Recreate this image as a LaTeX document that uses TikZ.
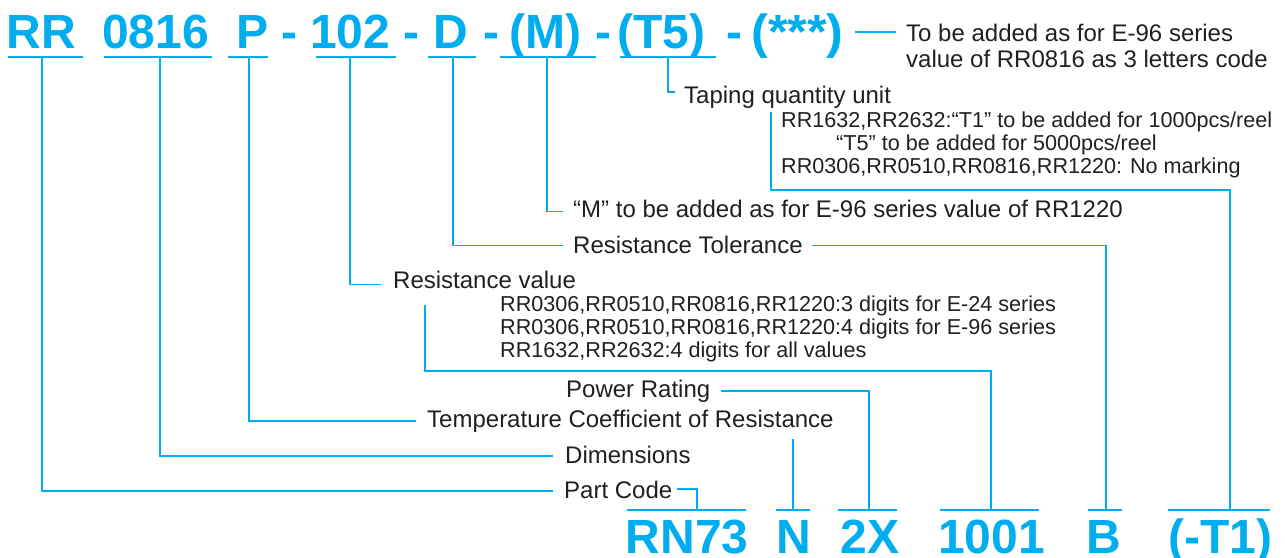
\documentclass[tikz,border=0pt]{standalone}
\usepackage{fontspec}
\setmainfont{Liberation Sans}
\definecolor{cy}{RGB}{0,174,239}
\definecolor{ink}{RGB}{35,31,32}
\begin{document}
\begin{tikzpicture}[x=1pt,y=-1pt,
  code/.style={font=\bfseries\fontsize{48}{48}\selectfont, text=cy, inner sep=0pt, anchor=base west},
  lab/.style={font=\fontsize{24}{26}\selectfont, text=ink, inner sep=0pt, anchor=base west, align=left},
  det/.style={font=\fontsize{21.6}{23}\selectfont, text=ink, inner sep=0pt, anchor=base west, align=left},
  conn/.style={draw=cy, line width=1.3pt}]
\useasboundingbox (0,0) rectangle (1285,557);
\fill[white] (0,0) rectangle (1285,557);

% ---- top code ----
\node[code] (tRR)  at (6.5,48) {RR};
\node[code] (t0816) at (102,48) {0816};
\node[code] (tP)   at (236.5,48) {P};
\node[code] (th1)  at (281,48) {-};
\node[code] (t102) at (310,48) {102};
\node[code] (th2)  at (403,48) {-};
\node[code] (tD)   at (433.5,48) {D};
\node[code] (th3)  at (483,48) {-};
\node[code] (tM)   at (509,48) {(M)};
\node[code] (th4)  at (595,48) {-};
\node[code] (tT5)  at (617,48) {(T5)};
\node[code] (th5)  at (726,48) {-};
\node[code, xscale=1.05] (tS)   at (751,48) {(***)};

% ---- bottom code ----
\node[code] (bRN) at (625.5,553.5) {RN73};
\node[code] (bN)  at (776.5,553.5) {N};
\node[code] (b2X) at (840.5,553.5) {2X};
\node[code] (b1001) at (938,553.5) {1001};
\node[code] (bB)  at (1086.5,553.5) {B};
\node[code] (bT1) at (1168,553.5) {(-T1)};

% ---- labels (multi-line nodes anchored on their last baseline) ----
\node[lab] (note) at (906,67) {To be added as for E-96 series\\value of RR0816 as 3 letters code};
\node[lab] (taping) at (684,103) {Taping quantity unit};
\node[det] (tapdet) at (781,173) {RR1632,RR2632:“T1” to be added for 1000pcs/reel\\\hspace*{55pt}“T5” to be added for 5000pcs/reel\\RR0306,RR0510,RR0816,RR1220: No marking};
\node[lab] (mnote) at (573,217) {“M” to be added as for E-96 series value of RR1220};
\node[lab] (tol) at (573,253) {Resistance Tolerance};
\node[lab] (resval) at (393,288) {Resistance value};
\node[det] (resdet) at (500,357) {RR0306,RR0510,RR0816,RR1220:3 digits for E-24 series\\RR0306,RR0510,RR0816,RR1220:4 digits for E-96 series\\RR1632,RR2632:4 digits for all values};
\node[lab] (power) at (566,397) {Power Rating};
\node[lab] (temp) at (427,427) {Temperature Coefficient of Resistance};
\node[lab] (dim) at (565,463) {Dimensions};
\node[lab] (pc) at (564,498) {Part Code};

% ---- coordinates: top underlines ----
\coordinate (uRRa) at (8,57);   \coordinate (uRRb) at (83,57);   \coordinate (uRR) at (42,57);
\coordinate (u08a) at (104,57); \coordinate (u08b) at (212,57);  \coordinate (u08) at (160,57);
\coordinate (uPa) at (228,57);  \coordinate (uPb) at (268,57);   \coordinate (uP) at (249,57);
\coordinate (u10a) at (316,57); \coordinate (u10b) at (396,57);  \coordinate (u10) at (350,57);
\coordinate (uDa) at (428,57);  \coordinate (uDb) at (476,57);   \coordinate (uD) at (453,57);
\coordinate (uMa) at (500,57);  \coordinate (uMb) at (596,57);   \coordinate (uM) at (547,57);
\coordinate (uTa) at (620,57);  \coordinate (uTb) at (716,57);   \coordinate (uT) at (668,57);
% bottom underlines
\coordinate (vRNa) at (627,510);  \coordinate (vRNb) at (746,510);  \coordinate (vRN) at (697,510);
\coordinate (vNa) at (776,510);   \coordinate (vNb) at (810,510);   \coordinate (vN) at (793,510);
\coordinate (v2a) at (838,510);   \coordinate (v2b) at (897,510);   \coordinate (v2) at (869,510);
\coordinate (v1a) at (940,510);   \coordinate (v1b) at (1039,510);  \coordinate (v1) at (991,510);
\coordinate (vBa) at (1088,510);  \coordinate (vBb) at (1122,510);  \coordinate (vB) at (1106,510);
\coordinate (vTa) at (1168,510);  \coordinate (vTb) at (1270,510);  \coordinate (vT) at (1230,510);
% connector ends
\coordinate (sA) at (855,32);   \coordinate (sB) at (896,32);
\coordinate (tapIn) at (675,92);
\coordinate (tapdTop) at (771,112); \coordinate (tapdBot) at (771,190);
\coordinate (mIn) at (563,211.5);
\coordinate (tolIn) at (563,245.5); \coordinate (tolOut) at (812,245.5);
\coordinate (rvIn) at (381,284.5);
\coordinate (rdTop) at (425,305); \coordinate (rdBot) at (991,371);
\coordinate (pwOut) at (721,391);
\coordinate (tcIn) at (416,421);
\coordinate (nTop) at (793,439);
\coordinate (dimIn) at (553,456);
\coordinate (pcIn) at (553,491);
\coordinate (pcOut) at (677,489);

% ---- underlines ----
\foreach \a/\b in {uRRa/uRRb,u08a/u08b,uPa/uPb,u10a/u10b,uDa/uDb,uMa/uMb,uTa/uTb,
                   vRNa/vRNb,vNa/vNb,v2a/v2b,v1a/v1b,vBa/vBb,vTa/vTb}
  \draw[conn] (\a) -- (\b);

% ---- connectors ----
\draw[conn] (sA) -- (sB);
\draw[conn] (uT) |- (tapIn);
\draw[conn] (tapdTop) -- (tapdBot) -| (vT);
\draw[conn] (uM) |- (mIn);
\draw[conn] (uD) |- (tolIn);
\draw[conn] (tolOut) -| (vB);
\draw[conn] (u10) |- (rvIn);
\draw[conn] (rdTop) |- (rdBot) -- (v1);
\draw[conn] (pwOut) -| (v2);
\draw[conn] (uP) |- (tcIn);
\draw[conn] (nTop) -- (vN);
\draw[conn] (u08) |- (dimIn);
\draw[conn] (uRR) |- (pcIn);
\draw[conn] (pcOut) -| (vRN);
\end{tikzpicture}
\end{document}
